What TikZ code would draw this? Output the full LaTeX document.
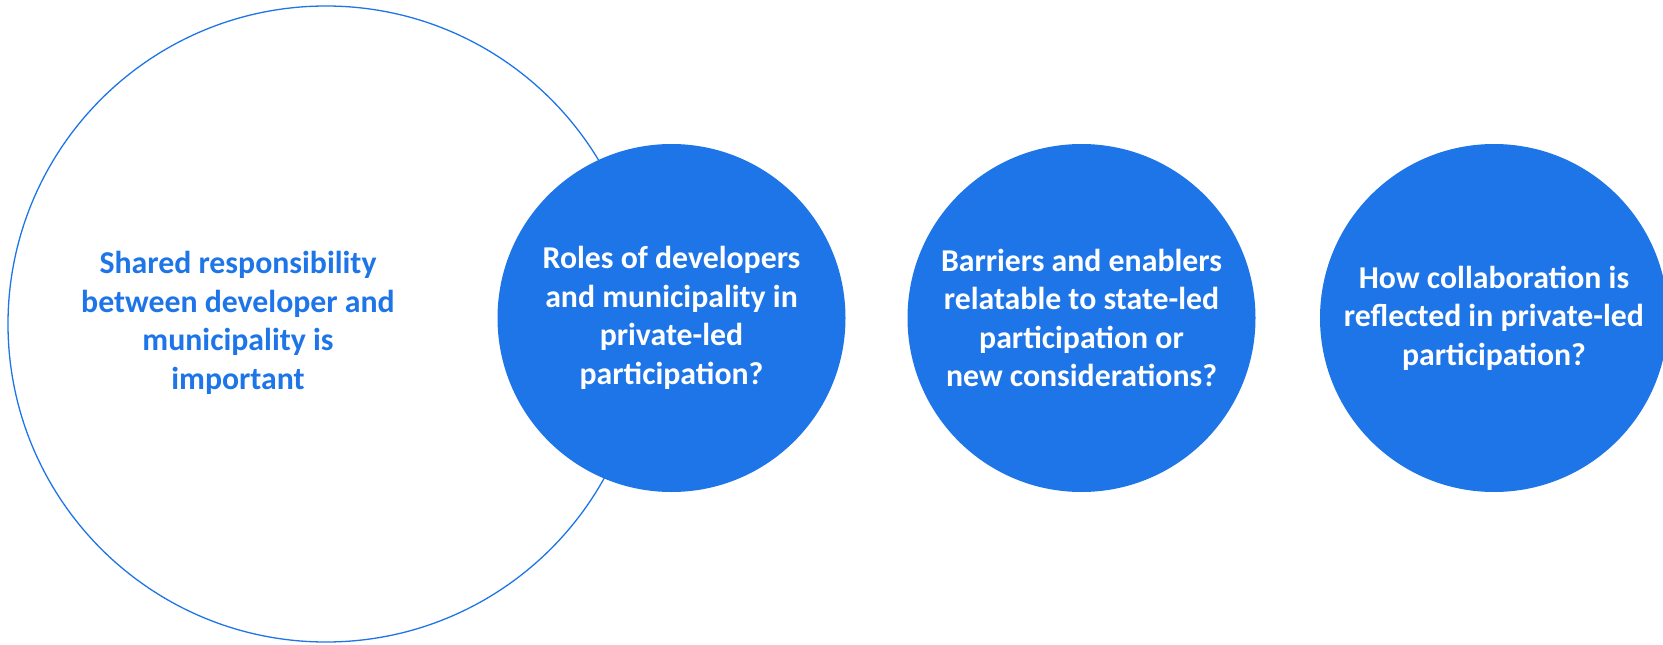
\documentclass[tikz,border=0pt]{standalone}
\usepackage{fontspec}
\setmainfont{Carlito}
\definecolor{mblue}{HTML}{1E75E8}
\begin{document}
\begin{tikzpicture}[x=1pt,y=-1pt,
  txt/.style={font=\bfseries\fontsize{31.8}{38.6}\selectfont, align=center, inner sep=0pt},
  bluecircle/.style={circle, fill=mblue, draw=none, minimum size=348pt, inner sep=0pt, text=white, txt},
  outlinecircle/.style={circle, draw=mblue, line width=1.3pt, minimum size=636pt, inner sep=0pt}]
\useasboundingbox (0,0) rectangle (1663,645);
\clip (0,0) rectangle (1663,645);
\node[outlinecircle] (big) at (326,324) {};
\node[txt, text=mblue] (bigtext) at (238,323) {Shared responsibility\\between developer and\\municipality is\\important};
\node[bluecircle] (c1) at (671.5,318) {Roles of developers\\and municipality in\\private-led\\participation?};
\node[bluecircle] (c2) at (1081.5,318) {Barriers and enablers\\relatable to state-led\\participation or\\new considerations?};
\node[bluecircle] (c3) at (1494,318) {How collaboration is\\reflected in private-led\\participation?};
\end{tikzpicture}
\end{document}
